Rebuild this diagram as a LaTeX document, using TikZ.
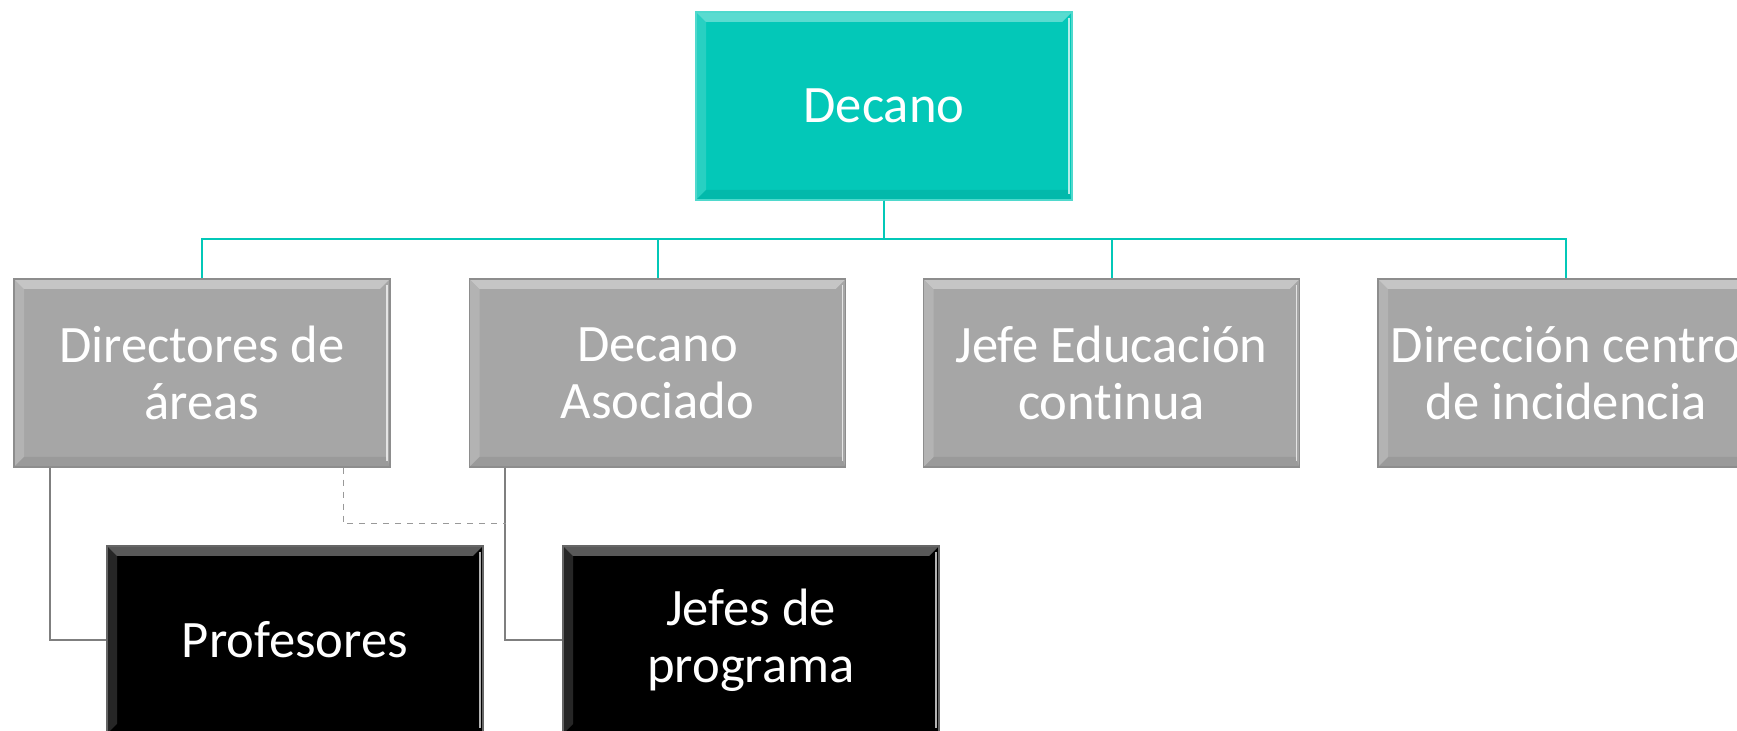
\documentclass[tikz,border=0pt]{standalone}
\usepackage{fontspec}
\newfontfamily\boxfont[Ligatures=NoCommon]{Carlito}
\definecolor{deanteal}{HTML}{03C8B8}
\definecolor{unitgray}{HTML}{A6A6A6}
\definecolor{linegray}{HTML}{7F7F7F}

\tikzset{
  bevel/.style={path picture={
    \fill[white,opacity=.35] (path picture bounding box.north west) -- (path picture bounding box.north east)
      -- ([shift={(-5pt,-5pt)}]path picture bounding box.north east) -- ([shift={(5pt,-5pt)}]path picture bounding box.north west) -- cycle;
    \fill[white,opacity=.15] (path picture bounding box.north west) -- ([shift={(5pt,-5pt)}]path picture bounding box.north west)
      -- ([shift={(5pt,5pt)}]path picture bounding box.south west) -- (path picture bounding box.south west) -- cycle;
    \fill[black,opacity=.07] (path picture bounding box.south west) -- ([shift={(5pt,5pt)}]path picture bounding box.south west)
      -- ([shift={(-2pt,5pt)}]path picture bounding box.south east) -- (path picture bounding box.south east) -- cycle;
    \draw[white,opacity=.7,line width=.8pt] ([shift={(-1.5pt,-3pt)}]path picture bounding box.north east)
      -- ([shift={(-1.5pt,3pt)}]path picture bounding box.south east);
  }},
  unit/.style={rectangle, minimum width=188pt, minimum height=94pt, align=center,
    text=white, font=\boxfont\fontsize{26.3}{28.5}\selectfont, line width=.6pt, bevel},
  dean/.style={unit, fill=deanteal, draw=deanteal!70!white},
  area/.style={unit, fill=unitgray, draw=unitgray!85!black},
  staff/.style={unit, fill=black, draw=black!60},
  link/.style={draw=deanteal, line width=1pt},
  sublink/.style={draw=linegray, line width=1pt},
  dashlink/.style={draw=linegray!80, line width=.5pt, dashed}
}

\begin{document}
\begin{tikzpicture}[x=0.5pt, y=-0.5pt]
  \useasboundingbox (0,0) rectangle (1737,731);
  \clip (0,0) rectangle (1737,731);

  \node[dean] (decano) at (884,106) {Decano};
  \node[area] (dir)  at (202,373)    {Directores de\\áreas};
  \node[area] (asoc) at (657.5,373)  {Decano\\Asociado};
  \node[area] (educ) at (1111.5,373) {Jefe Educación\\continua};
  \node[area] (cdi)  at (1566,373)   {Dirección centro\\de incidencia};
  \node[staff] (prof)  at (295,640) {Profesores};
  \node[staff] (jefes) at (751,640) {Jefes de\\programa};

  \coordinate (bus) at (884,239);
  \coordinate (meet) at (506,524);

  \foreach \n in {dir,asoc,educ,cdi}
    \draw[link] (decano.south) -- (decano.south |- bus) -| (\n.north);

  \draw[sublink] ([xshift=18.5pt]dir.south west) |- (prof.west);
  \draw[sublink] ([xshift=18pt]asoc.south west) |- (jefes.west);
  \draw[dashlink] ([xshift=-23.5pt]dir.south east) |- (meet);
\end{tikzpicture}
\end{document}
